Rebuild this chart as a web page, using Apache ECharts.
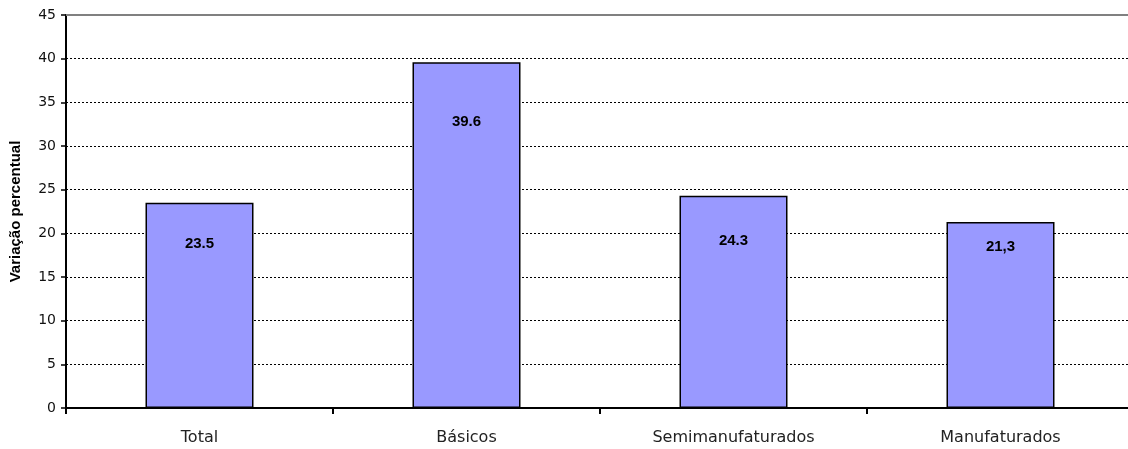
<!DOCTYPE html>
<html>
<head>
<meta charset="utf-8">
<script src="https://cdn.jsdelivr.net/npm/echarts@6/dist/echarts.min.js"></script>
<style>
html, body { margin: 0; padding: 0; background: #fff; }
#chart { width: 1128px; height: 449px; }
</style>
</head>
<body>
<div id="chart"></div>
<script>
var categories = ['Total', 'Básicos', 'Semimanufaturados', 'Manufaturados'];
var values = [23.5, 39.6, 24.3, 21.3];
var valueLabels = ['23.5', '39.6', '24.3', '21,3'];

// labels sit at different depths inside the bars in the original
var labelGaps = [34, 52, 38, 17];

var myChart = echarts.init(document.getElementById('chart'));

var barData = values.map(function (v, i) {
    return { value: v, label: { distance: labelGaps[i] } };
});

let option = {
    animation: false,
    grid: { left: 66, top: 15, width: 1068, height: 393, outerBoundsMode: 'none' },
    xAxis: {
        type: 'category',
        data: categories,
        axisLine: { lineStyle: { color: '#000', width: 2 } },
        axisTick: { show: true, length: 6, lineStyle: { color: '#000', width: 2 } },
        axisLabel: { color: '#222', fontFamily: 'DejaVu Sans', fontSize: 16, margin: 22 }
    },
    yAxis: {
        type: 'value',
        min: 0,
        max: 45,
        interval: 5,
        name: 'Variação percentual',
        nameLocation: 'middle',
        nameGap: 43,
        nameTextStyle: { color: '#000', fontFamily: 'Liberation Sans, Arial', fontSize: 15, fontWeight: 'bold' },
        axisLine: { show: true, lineStyle: { color: '#000', width: 2 } },
        axisTick: { show: true, length: 5, lineStyle: { color: '#000', width: 1.5 } },
        axisLabel: { color: '#111', fontFamily: 'DejaVu Sans', fontSize: 14, margin: 10 },
        splitLine: { lineStyle: { color: '#000', width: 1, type: [2, 2] } }
    },
    series: [
        {
            type: 'bar',
            data: barData,
            barWidth: 108,
            itemStyle: { color: '#9999FF', borderColor: '#000', borderWidth: 1.5 },
            label: {
                show: true,
                position: 'insideTop',
                color: '#000',
                fontFamily: 'Liberation Sans, Arial',
                fontSize: 15,
                fontWeight: 'bold',
                formatter: function (p) { return valueLabels[p.dataIndex]; }
            },
            markLine: {
                silent: true,
                symbol: 'none',
                label: { show: false },
                lineStyle: { color: '#808080', width: 2, type: 'solid' },
                data: [{ yAxis: 45 }]
            }
        }
    ]
};

myChart.setOption(option);
</script>
</body>
</html>
